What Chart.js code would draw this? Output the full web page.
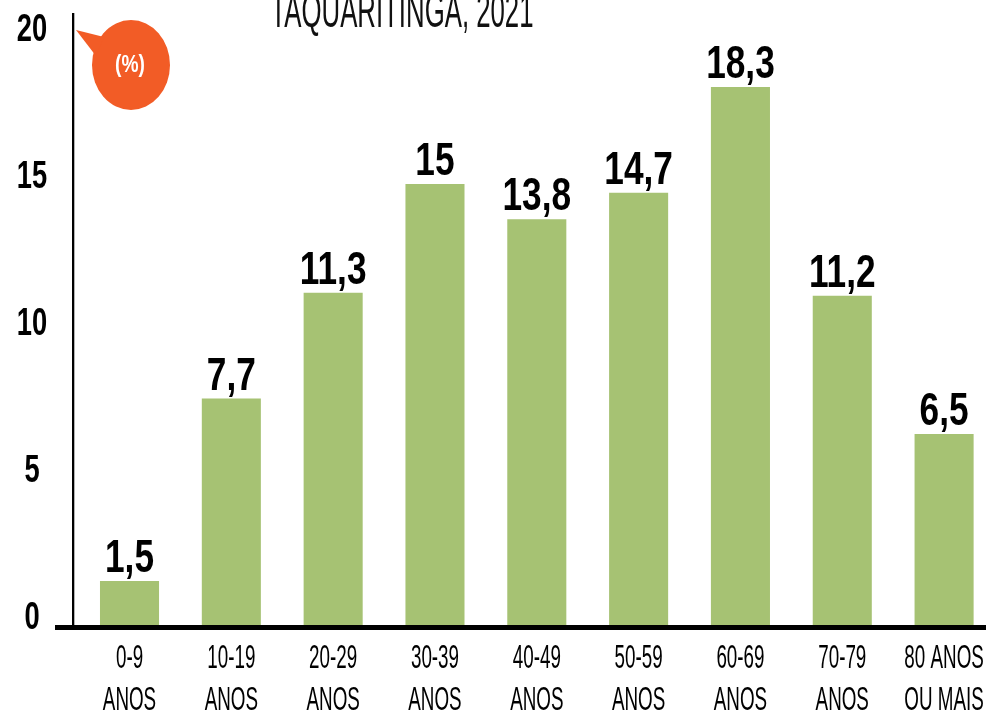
<!DOCTYPE html>
<html>
<head>
<meta charset="utf-8">
<script src="https://cdn.jsdelivr.net/npm/chart.js@4.4.1/dist/chart.umd.min.js"></script>
<style>
  html, body { margin: 0; padding: 0; overflow: hidden; background: #fff; }
  #wrap { width: 995px; height: 714px; }
</style>
</head>
<body>
<div id="wrap"><canvas id="faixas" width="995" height="714"></canvas></div>
<script>
const title = 'TAQUARITINGA, 2021';
const unitLabel = '(%)';
const categories = [
  ['0-9', 'ANOS'],
  ['10-19', 'ANOS'],
  ['20-29', 'ANOS'],
  ['30-39', 'ANOS'],
  ['40-49', 'ANOS'],
  ['50-59', 'ANOS'],
  ['60-69', 'ANOS'],
  ['70-79', 'ANOS'],
  ['80 ANOS', 'OU MAIS']
];
const values = [1.5, 7.7, 11.3, 15, 13.8, 14.7, 18.3, 11.2, 6.5];
const yTicks = [0, 5, 10, 15, 20];

const GREEN = '#a6c273';
const ORANGE = '#f25c26';
const FONT = "'Liberation Sans', Arial, sans-serif";

function fmt(v) {
  return String(v).replace('.', ',');
}

// squeezed text, the original uses a very condensed face
function squeezed(ctx, text, x, y, sx) {
  ctx.save();
  ctx.translate(x, y);
  ctx.scale(sx, 1);
  ctx.fillText(text, 0, 0);
  ctx.restore();
}

const decor = {
  id: 'decor',
  beforeDatasetsDraw(chart) {
    const ctx = chart.ctx;
    const area = chart.chartArea;
    ctx.save();
    ctx.fillStyle = '#000';
    ctx.fillRect(72, 13, 2.3, area.bottom - 13);
    ctx.restore();
  },
  afterDraw(chart) {
    const ctx = chart.ctx;
    const area = chart.chartArea;
    const x = chart.scales.x;
    const y = chart.scales.y;

    ctx.save();
    // base line
    ctx.fillStyle = '#000';
    ctx.fillRect(55, area.bottom, chart.width - 55, 5);

    ctx.textAlign = 'center';
    ctx.textBaseline = 'middle';

    // y tick labels
    ctx.font = 'bold 39px ' + FONT;
    yTicks.forEach(t => {
      squeezed(ctx, String(t), 32, y.getPixelForValue(t) - 7, 0.7);
    });

    // value labels
    ctx.textBaseline = 'alphabetic';
    ctx.font = 'bold 47px ' + FONT;
    values.forEach((v, i) => {
      squeezed(ctx, fmt(v), x.getPixelForValue(i), y.getPixelForValue(v) - 9, 0.75);
    });

    // category labels
    ctx.font = '33px ' + FONT;
    categories.forEach((lines, i) => {
      const cx = x.getPixelForValue(i);
      lines.forEach((line, k) => {
        squeezed(ctx, line, cx, area.bottom + 43 + k * 42, 0.57);
      });
    });

    // title (cut at the top in the original)
    ctx.font = '48px ' + FONT;
    ctx.fillStyle = '#111';
    squeezed(ctx, title, 402, 27, 0.537);

    // orange bubble
    ctx.fillStyle = ORANGE;
    ctx.beginPath();
    ctx.ellipse(131, 65, 39, 45, 0, 0, Math.PI * 2);
    ctx.fill();
    ctx.beginPath();
    ctx.moveTo(76, 30);
    ctx.lineTo(104, 37);
    ctx.lineTo(96, 56);
    ctx.closePath();
    ctx.fill();
    ctx.fillStyle = '#fff';
    ctx.font = 'bold 24px ' + FONT;
    squeezed(ctx, unitLabel, 130, 72, 0.8);
    ctx.restore();
  }
};

new Chart(document.getElementById('faixas').getContext('2d'), {
  type: 'bar',
  data: {
    labels: categories,
    datasets: [{
      data: values,
      backgroundColor: GREEN,
      borderWidth: 0,
      barPercentage: 0.58,
      categoryPercentage: 1
    }]
  },
  options: {
    responsive: false,
    animation: false,
    events: [],
    layout: { padding: { top: 37, left: 0, right: 0, bottom: 0 } },
    plugins: {
      legend: { display: false },
      tooltip: { enabled: false }
    },
    scales: {
      x: {
        grid: { display: false, drawTicks: false },
        border: { display: false },
        ticks: { display: false },
        afterFit(scale) { scale.height = 89; }
      },
      y: {
        min: yTicks[0],
        max: yTicks[yTicks.length - 1],
        afterBuildTicks(scale) {
          scale.ticks = yTicks.map(v => ({ value: v }));
        },
        afterFit(scale) { scale.width = 78.6; },
        grid: { display: false, drawTicks: false },
        border: { display: false },
        ticks: { display: false }
      }
    }
  },
  plugins: [decor]
});
</script>
</body>
</html>
